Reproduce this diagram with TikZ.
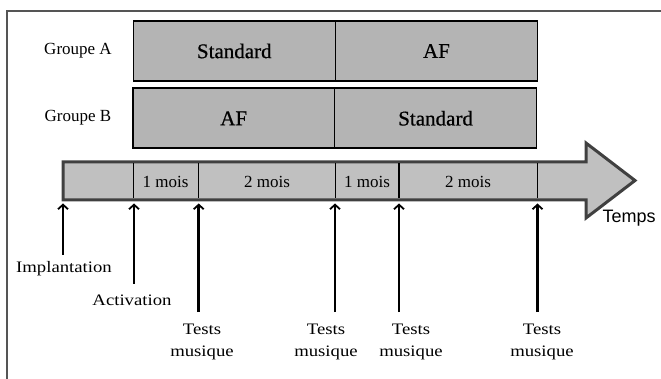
\documentclass[tikz,border=0pt]{standalone}
\usepackage{fontspec}
\setmainfont{Liberation Serif}
\newfontfamily\wideserif[FakeStretch=1.17]{Liberation Serif}
\newfontfamily\boxserif[FakeBold=0.6]{Liberation Serif}
\newfontfamily\tempsfont{Liberation Sans}
\usetikzlibrary{arrows.meta}
\definecolor{boxgray}{HTML}{B4B4B4}
\definecolor{linegray}{HTML}{C0C0C0}
\definecolor{edgegray}{HTML}{404040}
\definecolor{framegray}{HTML}{555555}

\begin{document}
\begin{tikzpicture}[x=1pt,y=-1pt,
    cell/.style={draw=black, fill=boxgray, line width=1.6pt, minimum width=202pt,
      minimum height=60pt, inner sep=0pt, outer sep=0pt, font=\boxserif\fontsize{21}{24}\selectfont},
    grouplabel/.style={font=\fontsize{17}{20}\selectfont},
    span/.style={font=\fontsize{17}{20}\selectfont},
    event/.style={font=\wideserif\fontsize{16}{22}\selectfont, align=center},
    tick/.style={line width=2.6pt, -{Straight Barb[length=4.5pt,width=10pt,line width=1.8pt]}}]
    \useasboundingbox (0,0) rectangle (661,379);
    \draw[framegray, line width=2pt] (7,379) -- (7,11) -- (661,11);
    % groups
    \node[grouplabel] (ga) at (78,51) {Groupe A};
    \node[grouplabel] (gb) at (78,118) {Groupe B};
    \node[cell] (stdA) at (234.3,51) {Standard};
    \node[cell] (afA) at (436.5,51) {AF};
    \node[cell] (afB) at (233.7,118.3) {AF};
    \node[cell] (stdB) at (435.6,118.3) {Standard};
    % time line
    \draw[edgegray, fill=linegray, line width=3pt, line join=miter]
      (63,162) -- (586,162) -- (586,143) -- (635,180.5) -- (586,218) -- (586,200)
      -- (63,200) -- cycle;
    \foreach \x in {133.5,198.5,335.5,399,537.5}
      \draw[black, line width=1.5pt] (\x,163.5) -- (\x,198.5);
    \node[span] (m1) at (165.5,181.5) {1 mois};
    \node[span] (m2) at (267,181.5) {2 mois};
    \node[span] (m3) at (367,181.5) {1 mois};
    \node[span] (m4) at (468,181.5) {2 mois};
    \node[font=\tempsfont\fontsize{18}{20}\selectfont] (temps) at (629,218) {Temps};
    % events
    \node[event] (impl) at (64,269) {Implantation};
    \node[event] (activ) at (132,300.5) {Activation};
    \node[event] (test1) at (202,342) {Tests\\musique};
    \node[event] (test2) at (326,342) {Tests\\musique};
    \node[event] (test3) at (411,342) {Tests\\musique};
    \node[event] (test4) at (542,342) {Tests\\musique};
    \foreach \x/\yb [count=\i] in {63/255,134/284,198.7/312,335/312,399/312,537.5/312} {
      \coordinate (tip\i) at (\x,203.5);
      \coordinate (tail\i) at (\x,\yb);
      \draw[tick] (tail\i) -- (tip\i);
    }
\end{tikzpicture}
\end{document}
